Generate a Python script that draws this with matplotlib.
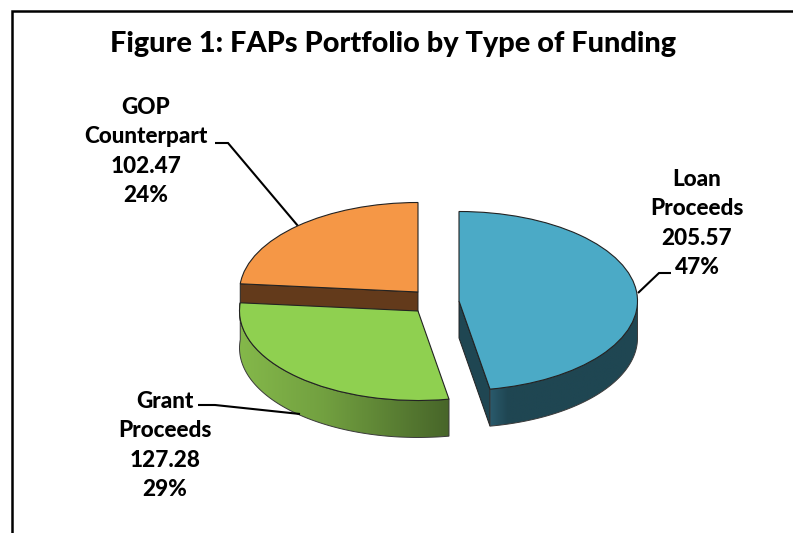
import numpy as np
import matplotlib
matplotlib.use("Agg")
import matplotlib.pyplot as plt
from matplotlib.patches import Wedge, PathPatch, Polygon
from matplotlib.path import Path
from matplotlib.colors import LinearSegmentedColormap
from matplotlib.transforms import Affine2D

title = "Figure 1: FAPs Portfolio by Type of Funding"
categories = ["Loan\nProceeds", "Grant\nProceeds", "GOP\nCounterpart"]
values = [205.57, 127.28, 102.47]
percent_labels = ["47%", "29%", "24%"]

top_colors = ["#4BAAC6", "#8FD050", "#F59746"]
centers = [(459, 301), (418, 311), (418, 292)]
label_pos = [(697, 223.5), (165, 445.5), (146, 151.5)]
leaders = [[(671, 273), (659, 273), (638, 293)],
           [(198, 405), (215, 405), (300, 414)],
           [(215, 143), (228, 143), (298, 226)]]
RX, RY, DEPTH = 178.5, 89.5, 37
W, H = 793, 533
FONT = "Lato"
WEIGHT = 900 if any(f.name == "Lato" and f.weight in (800, 900, "black", "heavy")
                    for f in matplotlib.font_manager.fontManager.ttflist) else "bold"

fig = plt.figure(figsize=(W / 100, H / 100), dpi=100)
ax = fig.add_axes([0, 0, 1, 1])
ax.set_xlim(0, W)
ax.set_ylim(H, 0)
ax.axis("off")

# slice angles (clockwise from 12 o'clock)
fracs = np.array(values) / sum(values)
ends = 90 - 360 * np.cumsum(fracs)
starts = np.r_[90, ends[:-1]]


def arc(c, a0, a1, dy=0, n=120):
    t = np.radians(np.linspace(a0, a1, n))
    return np.c_[c[0] + RX * np.cos(t), c[1] - RY * np.sin(t) + dy]


def ptc(c, a, dy=0):
    return arc(c, a, a, dy, 1)[0]


def gradient_wall(c, a0, a1, stops):
    top = arc(c, a0, a1)
    bot = arc(c, a1, a0, DEPTH)
    pts = np.r_[top, bot, top[:1]]
    path = Path(pts, closed=True)
    x0, x1 = pts[:, 0].min(), pts[:, 0].max()
    y0, y1 = pts[:, 1].min(), pts[:, 1].max()
    cmap = LinearSegmentedColormap.from_list("w", stops)
    im = ax.imshow(np.linspace(0, 1, 256)[None, :], cmap=cmap,
                   extent=(x0, x1, y1, y0), aspect="auto", zorder=2,
                   interpolation="bilinear")
    im.set_clip_path(PathPatch(path, transform=ax.transData))
    ax.add_patch(PathPatch(path, fc="none", ec="#3a3a3a", lw=0.7, zorder=2.1))
    ax.set_xlim(0, W)
    ax.set_ylim(H, 0)


# blue walls
c = centers[0]
ax.add_patch(Polygon([c, ptc(c, ends[0]), ptc(c, ends[0], DEPTH), (c[0], c[1] + DEPTH)],
                     fc="#1F4652", ec="#222222", lw=0.7, zorder=1.5))
gradient_wall(c, 0, ends[0], [(0, "#2A5A6C"), (0.12, "#1F4652"), (1, "#1F4652")])
# green wall
gradient_wall(centers[1], ends[1], ends[0],
              [(0, "#84B84A"), (0.4, "#72A040"), (1, "#476529")])
# orange radial wall (brown)
c = centers[2]
ax.add_patch(Polygon([ptc(c, starts[2]), c, (c[0], c[1] + DEPTH), ptc(c, starts[2], DEPTH)],
                     fc="#633A1B", ec="#222222", lw=0.7, zorder=1.5))

# top faces
for i, (c, col) in enumerate(zip(centers, top_colors)):
    w = Wedge((0, 0), 1, min(starts[i], ends[i]), max(starts[i], ends[i]), fc=col,
              ec="#222222", lw=0.8, zorder=3 + (i == 1),
              transform=Affine2D().scale(RX, RY).scale(1, -1).translate(*c) + ax.transData)
    ax.add_patch(w)

# labels and leaders
for name, val, pct, pos, ld in zip(categories, values, percent_labels, label_pos, leaders):
    ax.text(pos[0], pos[1], f"{name}\n{val:.2f}\n{pct}", ha="center", va="center",
            multialignment="center", fontsize=16.2, fontweight=WEIGHT, family=FONT,
            color="black", linespacing=1.475, zorder=6)
    ld = np.array(ld)
    ax.plot(ld[:, 0], ld[:, 1], color="black", lw=1.5, zorder=2.5,
            solid_joinstyle="miter", solid_capstyle="butt")

ax.text(392.5, 44, title, ha="center", va="center", fontsize=20.8,
        fontweight=WEIGHT, family=FONT, color="black")

# frame: left and top rules
ax.plot([12, 12, W], [H, 11, 11], color="black", lw=1.8, solid_joinstyle="miter", zorder=7)

fig.savefig("out.png", dpi=100)
